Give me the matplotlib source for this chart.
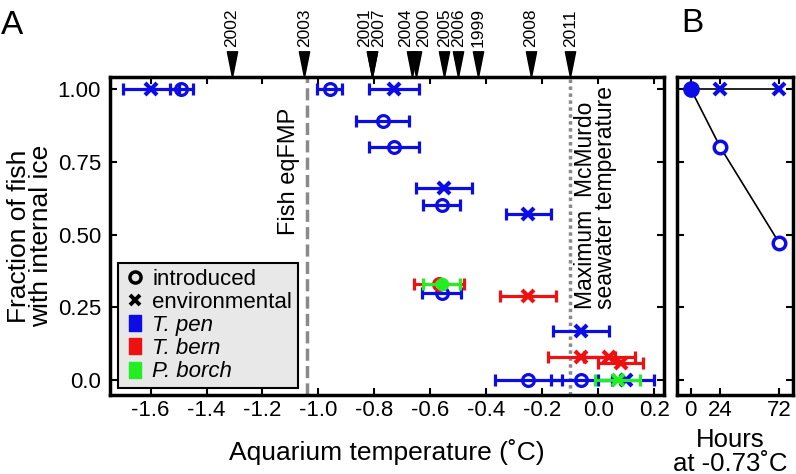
import numpy as np
import matplotlib
matplotlib.use("Agg")
import matplotlib.pyplot as plt
from matplotlib.lines import Line2D
from matplotlib.path import Path

plt.rcParams["font.family"] = ["Liberation Sans", "DejaVu Sans"]

# =========================================================
# data
# =========================================================

# years of sampling, marked on the top of panel A
years = ["2002", "2003", "2001", "2007", "2004", "2000", "2005", "2006", "1999", "2008", "2011"]
year_temps = [-1.31, -1.05, -0.81, -0.81, -0.665, -0.65, -0.55, -0.50, -0.43, -0.24, -0.10]

eq_fmp = -1.04
mcmurdo_max = -0.10

# T. pen
tpen_intro_x = [-1.49, -0.96, -0.77, -0.73, -0.56, -0.56, -0.25, -0.06]
tpen_intro_y = [1.00, 1.00, 0.89, 0.80, 0.60, 0.30, 0.00, 0.00]
tpen_intro_err = [0.04, 0.045, 0.095, 0.09, 0.065, 0.07, 0.12, 0.11]
tpen_env_x = [-1.60, -0.73, -0.55, -0.25, -0.06, 0.10]
tpen_env_y = [1.00, 1.00, 0.66, 0.57, 0.17, 0.00]
tpen_env_err = [0.10, 0.09, 0.10, 0.08, 0.10, 0.10]

# T. bern
tbern_intro_x = [-0.57]
tbern_intro_y = [0.33]
tbern_intro_err = [0.09]
tbern_env_x = [-0.25, -0.06, 0.04, 0.08]
tbern_env_y = [0.29, 0.08, 0.08, 0.06]
tbern_env_err = [0.10, 0.12, 0.09, 0.08]

# P. borch
pborch_intro_x = [-0.56]
pborch_intro_y = [0.33]
pborch_intro_err = [0.065]
pborch_env_x = [0.07]
pborch_env_y = [0.00]
pborch_env_err = [0.08]

# panel B
hours = [0, 24, 72]
hours_intro = [1.00, 0.80, 0.47]
hours_env = [1.00, 1.00, 1.00]

x_ticks = [-1.6, -1.4, -1.2, -1.0, -0.8, -0.6, -0.4, -0.2, 0.0, 0.2]
y_ticks = [0.0, 0.25, 0.50, 0.75, 1.00]
y_tick_labels = ["0.0", "0.25", "0.50", "0.75", "1.00"]

# =========================================================
# style
# =========================================================
BLUE = "#0c0ce6"
RED = "#ee1111"
GREEN = "#22ee22"
GREY = "#8a8a8a"
FS = 16

year_dx = [0, 0, -5, 5, -5, 5, 0, 0, 0, 0, 0]

fig = plt.figure(figsize=(7.96, 4.74), dpi=100)
# pixel layout: A 110..664 x 77..395, B 677..793
ax = fig.add_axes([110 / 796, 79 / 474, 554 / 796, 318 / 474])
axb = fig.add_axes([677 / 796, 79 / 474, 116 / 796, 318 / 474])


def style_axes(a):
    for s in a.spines.values():
        s.set_linewidth(2.5)
    a.tick_params(direction="in", length=5, width=1.5, top=True, right=True,
                  labelsize=FS)
    a.tick_params(axis="x", pad=3.5)
    a.tick_params(axis="y", pad=6.5)


def err_series(a, x, y, err, color, marker, filled=False, ms=8.5, mew=2.3, z=3):
    a.errorbar(x, y, xerr=err, fmt="none", ecolor=color, elinewidth=2.3,
               capsize=4.5, capthick=2.3, zorder=z)
    a.plot(x, y, linestyle="none", marker=marker, markersize=ms,
           markeredgewidth=mew, markeredgecolor=color,
           markerfacecolor=color if filled else "none", zorder=z + 0.5)


# =========================================================
# panel A
# =========================================================
style_axes(ax)
ax.set_xlim(-1.745, 0.235)
ax.set_ylim(-0.05, 1.04)
ax.set_xticks(x_ticks)
ax.set_xticklabels([f"{v:.1f}" for v in x_ticks])
ax.set_yticks(y_ticks)
ax.set_yticklabels(y_tick_labels)

ax.axvline(eq_fmp, color=GREY, lw=2.5, ls=(0, (3.5, 1.5)), zorder=1)
ax.axvline(mcmurdo_max, color=GREY, lw=2.5, ls=(0, (1, 1)), zorder=1)
ax.text(eq_fmp - 0.025, 0.50, "Fish eqFMP", rotation=90, ha="right", va="bottom",
        fontsize=17)
ax.text(mcmurdo_max + 0.012, 0.245, "Maximum  McMurdo\nseawater temperature",
        rotation=90, ha="left", va="bottom", fontsize=16.5, linespacing=0.85)

err_series(ax, tpen_intro_x, tpen_intro_y, tpen_intro_err, BLUE, "o")
err_series(ax, tpen_env_x, tpen_env_y, tpen_env_err, BLUE, "x", ms=8, mew=3)
err_series(ax, tbern_intro_x, tbern_intro_y, tbern_intro_err, RED, "o")
err_series(ax, tbern_env_x, tbern_env_y, tbern_env_err, RED, "x", ms=8, mew=3)
err_series(ax, pborch_intro_x, pborch_intro_y, pborch_intro_err, GREEN, "o",
           filled=True, ms=8.5, mew=1.2, z=4)
err_series(ax, pborch_env_x, pborch_env_y, pborch_env_err, GREEN, "x",
           ms=8, mew=3, z=4)

# year arrows above the axes
tri = Path([(-0.2, 1.0), (0.2, 1.0), (0.0, 0.0), (-0.2, 1.0)],
           [Path.MOVETO, Path.LINETO, Path.LINETO, Path.CLOSEPOLY])
trans = ax.get_xaxis_transform()
ax.plot(year_temps, [1.0] * len(year_temps), linestyle="none", marker=tri,
        markersize=37, color="black", transform=trans, clip_on=False, zorder=5)
for yr, t, dx in zip(years, year_temps, year_dx):
    ax.annotate(yr, xy=(t, 1.0), xycoords=trans, xytext=(dx, 21.5),
                textcoords="offset points", rotation=90, ha="center",
                va="bottom", fontsize=12.5)

ax.set_xlabel("Aquarium temperature (˚C)", fontsize=19, va="center")
ax.xaxis.set_label_coords(0.5, (395 - 452) / 318)
ax.set_ylabel("Fraction of fish\nwith internal ice", fontsize=19,
              linespacing=0.85, va="center")
ax.yaxis.set_label_coords((30 - 110) / 554, 0.5)

handles = [
    Line2D([], [], ls="none", marker="o", mfc="none", mec="black", mew=2.5, ms=8),
    Line2D([], [], ls="none", marker="x", mec="black", mew=2.8, ms=7.5),
]
rect = Path([(-0.8, -1), (0.8, -1), (0.8, 1), (-0.8, 1), (-0.8, -1)],
            [Path.MOVETO, Path.LINETO, Path.LINETO, Path.LINETO, Path.CLOSEPOLY])
for c in (BLUE, RED, GREEN):
    handles.append(Line2D([], [], ls="none", marker=rect, color=c, mec=c, ms=11))
labels = ["introduced", "environmental", "T. pen", "T. bern", "P. borch"]
leg = ax.legend(handles, labels, loc="lower left", bbox_to_anchor=(0.0145, 0.022),
                fontsize=FS, handlelength=1.0, handletextpad=0.3,
                labelspacing=0.1, borderpad=0.25, borderaxespad=0,
                fancybox=False, framealpha=1, facecolor="#e8e8e8",
                edgecolor="black")
leg.get_frame().set_linewidth(1.5)
for t in leg.get_texts()[2:]:
    t.set_style("italic")

# =========================================================
# panel B
# =========================================================
style_axes(axb)
axb.set_xlim(-11, 83)
axb.set_ylim(-0.05, 1.04)
axb.set_xticks(hours)
axb.set_yticks(y_ticks)
axb.set_yticklabels([])
axb.plot(hours, hours_env, color="black", lw=1.2, zorder=2)
axb.plot(hours, hours_intro, color="black", lw=1.2, zorder=2)
axb.plot(hours[1:], hours_env[1:], ls="none", marker="x", ms=8, mew=3,
         mec=BLUE, zorder=3)
axb.plot(hours[1:], hours_intro[1:], ls="none", marker="o", ms=9, mew=2.5,
         mec=BLUE, mfc="white", zorder=3)
axb.plot(hours[:1], hours_intro[:1], ls="none", marker="o", ms=10, mew=2,
         mec=BLUE, mfc=BLUE, zorder=3)
axb.set_xlabel("Hours\nat -0.73˚C", fontsize=18.5, linespacing=0.95, va="center")
axb.xaxis.set_label_coords(0.46, (395 - 452) / 318)

fig.text(12 / 796, 1 - 25 / 474, "A", fontsize=24, va="center", ha="center")
fig.text(692 / 796, 1 - 24 / 474, "B", fontsize=24, va="center", ha="center")

fig.savefig("out.png", dpi=100)
